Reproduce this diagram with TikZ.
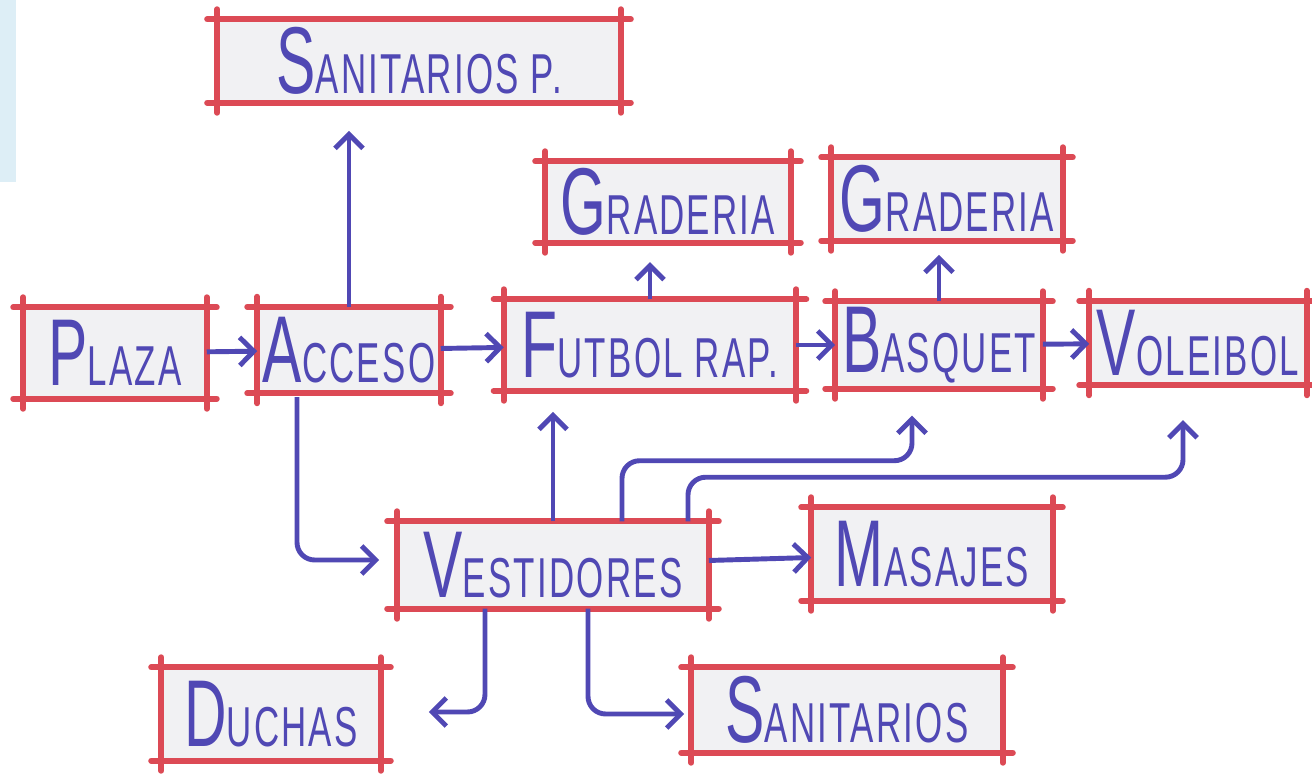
\documentclass[tikz,border=0pt]{standalone}
\usepackage{fontspec}
\newfontfamily\handfont[FakeStretch=0.62, LetterSpace=4]{Liberation Sans}
\usetikzlibrary{arrows, arrows.meta, positioning, calc}
\definecolor{marker}{HTML}{5048B4}
\definecolor{redpen}{HTML}{DC4A55}
\definecolor{paper}{HTML}{F1F1F3}
\definecolor{panel}{HTML}{DDEEF6}
% big first letter, rest smaller
\newcommand{\hw}[2]{{\fontsize{27}{27}\selectfont #1}{\fontsize{16}{16}\selectfont #2}}

\begin{document}
\begin{tikzpicture}[x=0.01cm, y=-0.01cm, >={Straight Barb[length=4pt, width=8pt]},
    room/.style={fill=paper, inner sep=0pt, text=marker, font=\handfont},
    edge/.style={redpen, line width=1.7pt, line cap=round},
    link/.style={->, marker, line width=1.4pt, rounded corners=5pt}]
        \useasboundingbox (0,0) rectangle (1312,776);
        \fill[white] (0,0) rectangle (1312,776);
        \fill[panel] (0,0) rectangle (16,182);

        % Rooms
        \node[room, minimum width=4.02cm, minimum height=0.82cm] (sanp) at (419,61) {\hw{S}{ANITARIOS P.}};
        \node[room, minimum width=2.44cm, minimum height=0.80cm] (grad1) at (668,202) {\hw{G}{RADERIA}};
        \node[room, minimum width=2.30cm, minimum height=0.82cm] (grad2) at (947,199) {\hw{G}{RADERIA}};
        \node[room, minimum width=1.82cm, minimum height=0.90cm] (plaza) at (115,353) {\hw{P}{LAZA}};
        \node[room, minimum width=1.82cm, minimum height=0.85cm] (acceso) at (349,350) {\hw{A}{CCESO}};
        \node[room, minimum width=2.91cm, minimum height=0.90cm] (futbol) at (650,345) {\hw{F}{UTBOL RAP.}};
        \node[room, minimum width=2.06cm, minimum height=0.86cm] (basquet) at (939,345) {\hw{B}{ASQUET}};
        \node[room, minimum width=2.16cm, minimum height=0.83cm] (voleibol) at (1198,343) {\hw{V}{OLEIBOL}};
        \node[room, minimum width=3.10cm, minimum height=0.86cm] (vest) at (553,565) {\hw{V}{ESTIDORES}};
        \node[room, minimum width=2.40cm, minimum height=0.92cm] (masajes) at (932,554) {\hw{M}{ASAJES}};
        \node[room, minimum width=2.18cm, minimum height=0.92cm] (duchas) at (271,714) {\hw{D}{UCHAS}};
        \node[room, minimum width=3.10cm, minimum height=0.84cm] (sanit) at (847,710) {\hw{S}{ANITARIOS}};

        % Box outlines, lines run past the corners
        \foreach \n in {sanp, grad1, grad2, plaza, acceso, futbol, basquet, voleibol, vest, masajes, duchas, sanit} {
            \draw[edge] ($(\n.north west)+(-10,0)$) -- ($(\n.north east)+(10,0)$);
            \draw[edge] ($(\n.south west)+(-10,0)$) -- ($(\n.south east)+(10,0)$);
            \draw[edge] ($(\n.north west)+(0,-10)$) -- ($(\n.south west)+(0,10)$);
            \draw[edge] ($(\n.north east)+(0,-10)$) -- ($(\n.south east)+(0,10)$);
        }

        % Arrows
        \draw[link] (plaza) -- (acceso);
        \draw[link] (acceso) -- (futbol);
        \draw[link] (futbol) -- (basquet);
        \draw[link] (basquet) -- (voleibol);
        \draw[link] (vest) -- (masajes);
        \draw[link, shorten >=8pt] (acceso.north) -- (acceso.north |- sanp.south);
        \draw[link, shorten >=5.5pt] (futbol.north) -- (futbol.north |- grad1.south);
        \draw[link, shorten >=4pt] (basquet.north) -- (basquet.north |- grad2.south);
        \draw[link, shorten >=6pt] (vest.north) -- (vest.north |- futbol.south);
        \draw[link] ($(vest.north)+(69,0)$) |- ($(basquet.south)+(-27,72)$) -- ($(basquet.south)+(-27,27)$);
        \draw[link] ($(vest.north)+(135,0)$) |- ($(voleibol.south)+(-15,92)$) -- ($(voleibol.south)+(-15,35)$);
        \draw[link] ($(acceso.south)+(-52,4)$) |- ($(vest.west)+(-18,-5)$);
        \draw[link] ($(vest.south)+(-68,0)$) |- ($(duchas.east)+(48,-2)$);
        \draw[link] ($(vest.south)+(35,0)$) |- ($(sanit.west)+(-7,4)$);
    \end{tikzpicture}
\end{document}
